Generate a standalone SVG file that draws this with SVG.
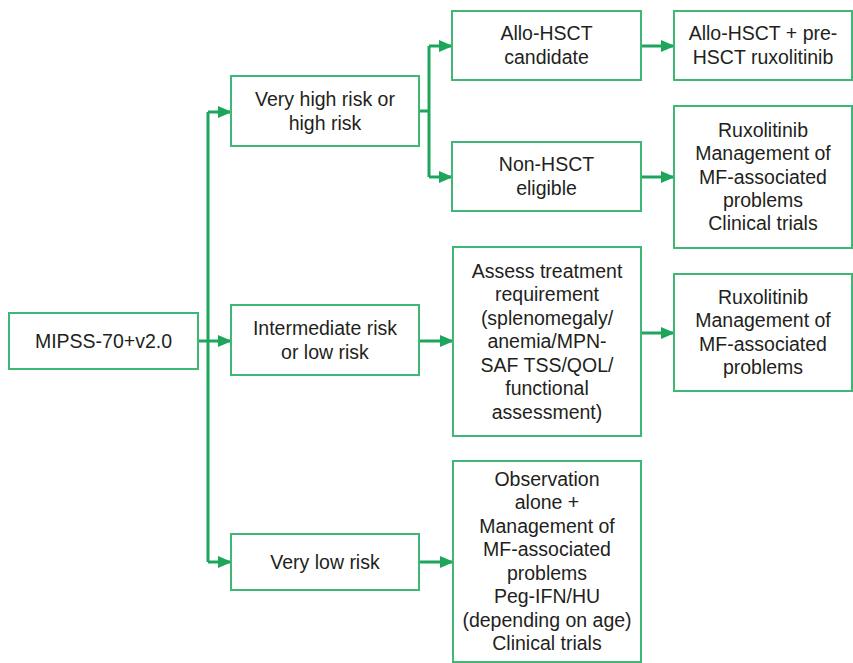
<svg xmlns="http://www.w3.org/2000/svg" width="853" height="663" viewBox="0 0 853 663">
<defs>
<marker id="ah" markerUnits="userSpaceOnUse" markerWidth="14" markerHeight="12" refX="13" refY="6" orient="auto">
<path d="M0,0 L14,6 L0,12 Z" fill="#1ea55c"/>
</marker>
<style>
.box{fill:#fff;stroke:#3fb875;stroke-width:2}
.t{font-family:"Liberation Sans",Arial,Helvetica,sans-serif;font-size:19.5px;fill:#231f20;text-anchor:middle}
.c{fill:none;stroke:#1ea55c;stroke-width:3}
</style>
</defs>
<rect width="853" height="663" fill="#fff"/>
<g id="connectors">
<path class="c" d="M198,341 H208"/>
<path class="c" d="M208,112 V562"/>
<path class="c" d="M208,112 H231" marker-end="url(#ah)"/>
<path class="c" d="M208,341 H231" marker-end="url(#ah)"/>
<path class="c" d="M208,562 H231" marker-end="url(#ah)"/>
<path class="c" d="M419,111 H429"/>
<path class="c" d="M429,46 V177"/>
<path class="c" d="M429,46 H452" marker-end="url(#ah)"/>
<path class="c" d="M429,177 H452" marker-end="url(#ah)"/>
<path class="c" d="M641,46 H674" marker-end="url(#ah)"/>
<path class="c" d="M641,177 H674" marker-end="url(#ah)"/>
<path class="c" d="M419,341 H453" marker-end="url(#ah)"/>
<path class="c" d="M641,333 H674" marker-end="url(#ah)"/>
<path class="c" d="M419,562 H453" marker-end="url(#ah)"/>
</g>
<g id="mipss">
<rect class="box" x="9" y="313" width="189" height="56"/>
<text class="t" x="103.5" y="347.5">MIPSS-70+v2.0</text>
</g>
<g id="veryhigh">
<rect class="box" x="231" y="76" width="188" height="70"/>
<text class="t" x="325" y="106">Very high risk or</text>
<text class="t" x="325" y="129.5">high risk</text>
</g>
<g id="intermediate">
<rect class="box" x="231" y="305" width="188" height="70"/>
<text class="t" x="325" y="335">Intermediate risk</text>
<text class="t" x="325" y="358.5">or low risk</text>
</g>
<g id="verylow">
<rect class="box" x="231" y="534" width="188" height="56"/>
<text class="t" x="325" y="568.5">Very low risk</text>
</g>
<g id="allocand">
<rect class="box" x="452" y="11" width="189" height="69"/>
<text class="t" x="546.5" y="40">Allo-HSCT</text>
<text class="t" x="546.5" y="63.5">candidate</text>
</g>
<g id="allopre">
<rect class="box" x="674" y="11" width="178" height="69"/>
<text class="t" x="763" y="40">Allo-HSCT + pre-</text>
<text class="t" x="763" y="63.5">HSCT ruxolitinib</text>
</g>
<g id="nonhsct">
<rect class="box" x="452" y="142" width="189" height="69"/>
<text class="t" x="546.5" y="171">Non-HSCT</text>
<text class="t" x="546.5" y="194.5">eligible</text>
</g>
<g id="rux1">
<rect class="box" x="674" y="106" width="178" height="142"/>
<text class="t" x="763" y="137">Ruxolitinib</text>
<text class="t" x="763" y="160.3">Management of</text>
<text class="t" x="763" y="183.6">MF-associated</text>
<text class="t" x="763" y="206.9">problems</text>
<text class="t" x="763" y="230.2">Clinical trials</text>
</g>
<g id="assess">
<rect class="box" x="453" y="247" width="188" height="189"/>
<text class="t" x="547" y="277.5">Assess treatment</text>
<text class="t" x="547" y="301">requirement</text>
<text class="t" x="547" y="324.5">(splenomegaly/</text>
<text class="t" x="547" y="348">anemia/MPN-</text>
<text class="t" x="547" y="371.5">SAF TSS/QOL/</text>
<text class="t" x="547" y="395">functional</text>
<text class="t" x="547" y="418.5">assessment)</text>
</g>
<g id="rux2">
<rect class="box" x="674" y="274" width="178" height="117"/>
<text class="t" x="763" y="303.5">Ruxolitinib</text>
<text class="t" x="763" y="327">Management of</text>
<text class="t" x="763" y="350.5">MF-associated</text>
<text class="t" x="763" y="374">problems</text>
</g>
<g id="observation">
<rect class="box" x="453" y="461" width="188" height="201"/>
<text class="t" x="547" y="485.5">Observation</text>
<text class="t" x="547" y="509">alone +</text>
<text class="t" x="547" y="532.5">Management of</text>
<text class="t" x="547" y="556">MF-associated</text>
<text class="t" x="547" y="579.5">problems</text>
<text class="t" x="547" y="603">Peg-IFN/HU</text>
<text class="t" x="547" y="626.5">(depending on age)</text>
<text class="t" x="547" y="650">Clinical trials</text>
</g>
</svg>
